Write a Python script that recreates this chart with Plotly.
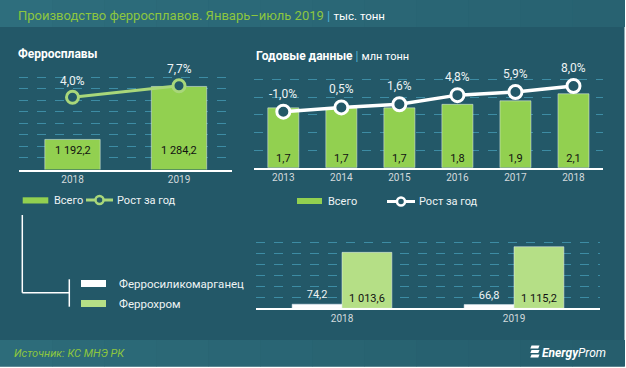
import plotly.graph_objects as go

W, H = 626, 368

# ---------------- data ----------------
ferro_years = ["2018", "2019"]
ferro_total = [1192.2, 1284.2]          # тыс. тонн
ferro_growth = [4.0, 7.7]               # %

annual_years = ["2013", "2014", "2015", "2016", "2017", "2018"]
annual_total = [1.7, 1.7, 1.7, 1.8, 1.9, 2.1]   # млн тонн
annual_growth = [-1.0, 0.5, 1.6, 4.8, 5.9, 8.0]  # %

split_years = ["2018", "2019"]
fesimn = [74.2, 66.8]        # Ферросиликомарганец
fecr = [1013.6, 1115.2]      # Феррохром

# ---------------- styling ----------------
BG = "#235868"
GREEN = "#92d050"
LGREEN = "#b5df86"
LINE_G = "#a9d77a"
GRID = "#3d8ca4"
TICK = "#d3dadd"
TXT = "#eef3f4"
FONT = "Roboto"


def fmt(v, dec=1):
    return f"{v:,.{dec}f}".replace(",", " ").replace(".", ",")


def X(p):
    return p / W


def Y(p):
    return 1 - p / H


fig = go.Figure()

# ---- left chart: Ферросплавы ----
fig.add_trace(go.Bar(x=ferro_years, y=ferro_total, marker_color=GREEN, width=0.52,
                     offset=-0.26, xaxis="x", yaxis="y", showlegend=False, hoverinfo="skip"))
fig.add_trace(go.Scatter(x=ferro_years, y=ferro_growth, mode="lines+markers",
                         line=dict(color=LINE_G, width=3),
                         marker=dict(size=12, color=BG, line=dict(color=LINE_G, width=3)),
                         xaxis="x", yaxis="y2", showlegend=False, hoverinfo="skip", cliponaxis=False))

# ---- right chart: Годовые данные ----
fig.add_trace(go.Bar(x=annual_years, y=annual_total, marker_color=GREEN, width=0.535,
                     offset=-0.2675, xaxis="x3", yaxis="y3", showlegend=False, hoverinfo="skip",
                     text=[fmt(v) for v in annual_total], textposition="inside",
                     insidetextanchor="start", textangle=0, constraintext="none",
                     textfont=dict(color="#111111", size=11, family=FONT)))
fig.add_trace(go.Scatter(x=annual_years, y=annual_growth, mode="lines+markers",
                         line=dict(color="#ffffff", width=3.5),
                         marker=dict(size=13, color=BG, line=dict(color="#ffffff", width=3)),
                         xaxis="x3", yaxis="y4", showlegend=False, hoverinfo="skip", cliponaxis=False))

# ---- bottom chart: split ----
fig.add_trace(go.Bar(x=split_years, y=fesimn, marker_color="#ffffff", xaxis="x5", yaxis="y5",
                     showlegend=False, hoverinfo="skip",
                     text=[fmt(v) for v in fesimn], textposition="outside", textangle=0,
                     constraintext="none", cliponaxis=False,
                     textfont=dict(color=TXT, size=11, family=FONT)))
fig.add_trace(go.Bar(x=split_years, y=fecr, marker_color=LGREEN, xaxis="x5", yaxis="y5",
                     showlegend=False, hoverinfo="skip",
                     text=[fmt(v) for v in fecr], textposition="inside", insidetextanchor="start",
                     textangle=0, constraintext="none",
                     textfont=dict(color="#111111", size=11, family=FONT)))

tickfont = dict(family=FONT, size=10, color=TICK)
common_x = dict(type="category", showgrid=False, showline=True, linecolor="#ffffff", linewidth=1.5,
                ticks="", tickfont=tickfont, fixedrange=True, zeroline=False)
common_y = dict(showgrid=True, gridcolor=GRID, griddash="dash", gridwidth=1, showticklabels=False,
                zeroline=False, ticks="", showline=False, fixedrange=True)

# left chart geometry
L_base, L_top = 169.5, 66.0
L_ppu = 0.576           # pixels per thousand tonnes
L_min = 1140
L_max = L_min + (L_base - L_top) / L_ppu
G_ppu = 3.135
G_min = 4.0 - (L_base - 97.3) / G_ppu
G_max = G_min + (L_base - L_top) / G_ppu

# right chart geometry
R_base, R_top = 167.7, 66.0
R_max = (R_base - R_top) / 35.2
R2_ppu = 2.856
R2_min = -1.0 - (R_base - 111.7) / R2_ppu
R2_max = R2_min + (R_base - R_top) / R2_ppu

# bottom chart geometry
B_base, B_top = 308.3, 236.0
B_max = (B_base - B_top) / 0.0552

fig.update_layout(
    width=W, height=H, margin=dict(l=0, r=0, t=0, b=0),
    paper_bgcolor="#ffffff", plot_bgcolor="rgba(0,0,0,0)",
    barmode="group", bargap=0.42, bargroupgap=0,
    font=dict(family=FONT, color=TXT),
    xaxis=dict(common_x, domain=[X(19.25), X(232.25)], anchor="y",
               categoryorder="array", categoryarray=ferro_years, range=[-0.5, len(ferro_years) - 0.5]),
    yaxis=dict(common_y, domain=[Y(L_base), Y(L_top)], range=[L_min, L_max], tick0=L_min, dtick=20,
               anchor="x"),
    yaxis2=dict(overlaying="y", anchor="x", range=[G_min, G_max], visible=False, fixedrange=True),
    xaxis3=dict(common_x, domain=[X(254.3), X(602.5)], anchor="y3",
                categoryorder="array", categoryarray=annual_years,
                range=[-0.5, len(annual_years) - 0.5]),
    yaxis3=dict(common_y, domain=[Y(R_base), Y(R_top)], range=[0, R_max], tick0=0, dtick=0.5,
                anchor="x3"),
    yaxis4=dict(overlaying="y3", anchor="x3", range=[R2_min, R2_max], visible=False, fixedrange=True),
    xaxis5=dict(common_x, domain=[X(256), X(600)], anchor="y5",
                categoryorder="array", categoryarray=split_years, range=[-0.5, len(split_years) - 0.5]),
    yaxis5=dict(common_y, domain=[Y(B_base), Y(B_top)], range=[0, B_max], tick0=0, dtick=200,
                anchor="x5"),
)

shapes = []
ann = []


def rect(x0, y0, x1, y1, color, layer="below"):
    shapes.append(dict(type="rect", xref="paper", yref="paper", x0=X(x0), x1=X(x1), y0=Y(y1), y1=Y(y0),
                       fillcolor=color, line=dict(width=0), layer=layer))


def seg(x0, y0, x1, y1, color="#ffffff", width=1.5, layer="above"):
    shapes.append(dict(type="line", xref="paper", yref="paper", x0=X(x0), x1=X(x1), y0=Y(y0), y1=Y(y1),
                       line=dict(color=color, width=width), layer=layer))


def circ(cx, cy, r, fill, color, width):
    shapes.append(dict(type="circle", xref="paper", yref="paper", x0=X(cx - r), x1=X(cx + r),
                       y0=Y(cy + r), y1=Y(cy - r), fillcolor=fill, line=dict(color=color, width=width),
                       layer="above"))


def text(x, y, s, size=11, color=TXT, xanchor="left", family=FONT):
    ann.append(dict(xref="paper", yref="paper", x=X(x), y=Y(y), text=s, showarrow=False,
                    xanchor=xanchor, yanchor="middle", font=dict(size=size, color=color, family=family)))


# background
rect(0, 0, 624.5, 366.5, BG)
n = 12
for i in range(n):
    t = i / (n - 1)
    c0, c1 = (46, 110, 125), (40, 98, 113)
    c = tuple(int(c0[k] + (c1[k] - c0[k]) * t) for k in range(3))
    rect(624.5 * i / n, 0, 624.5 * (i + 1) / n + 0.5, 27, "rgb(%d,%d,%d)" % c)
for i in range(n):
    t = i / (n - 1)
    c0, c1 = (45, 108, 122), (38, 94, 109)
    c = tuple(int(c0[k] + (c1[k] - c0[k]) * t) for k in range(3))
    rect(624.5 * i / n, 340, 624.5 * (i + 1) / n + 0.5, 366.5, "rgb(%d,%d,%d)" % c)

# titles
text(16, 15, "<span style='color:#8dc63f'>Производство ферросплавов. Январь–июль 2019</span>"
             " <span style='color:#4fb3d6'>|</span> <span style='font-size:11.5px'>тыс. тонн</span>",
     size=13, color="#ffffff")
text(16, 54, "<b>Ферросплавы</b>", size=12, color="#ffffff")
text(254, 56, "<b>Годовые данные</b> <span style='color:#4fb3d6'>|</span> "
              "<span style='font-size:11px'>млн тонн</span>", size=12, color="#ffffff")

# left chart bar labels and growth labels (x given as category index)
for i, v in enumerate(ferro_total):
    ann.append(dict(xref="x", yref="y", x=i, y=L_min, yshift=19.5, text=fmt(v), showarrow=False,
                    yanchor="middle", font=dict(size=11, color="#111111", family=FONT)))
for i, g in enumerate(ferro_growth):
    ann.append(dict(xref="x", yref="y2", x=i, y=g, yshift=16.5, text=fmt(g) + "%", showarrow=False,
                    yanchor="middle", font=dict(size=12, color=TXT, family=FONT)))
for i, g in enumerate(annual_growth):
    ann.append(dict(xref="x3", yref="y4", x=i, y=g, yshift=18, text=fmt(g) + "%", showarrow=False,
                    yanchor="middle", font=dict(size=12, color=TXT, family=FONT)))

# legends: left
rect(22.7, 197.3, 48.3, 203.5, GREEN, layer="above")
text(52, 200, "Всего", size=11)
seg(86, 200, 113, 200, LINE_G, 3)
circ(99.5, 200, 4, BG, LINE_G, 2.5)
text(115, 200, "Рост за год", size=11)
# legends: right
rect(297, 198, 322, 204, GREEN, layer="above")
text(326, 201.5, "Всего", size=11)
seg(387, 201.5, 415, 201.5, "#ffffff", 3)
circ(401, 201.5, 4, BG, "#ffffff", 2.5)
text(417, 201.5, "Рост за год", size=11)
# legends: bottom
rect(81, 280, 106, 287, "#ffffff", layer="above")
text(116.5, 283.5, "Ферросиликомарганец", size=11.5)
rect(81, 300, 106, 307, LGREEN, layer="above")
text(116.5, 304, "Феррохром", size=11.5)
# connectors
seg(22.3, 215, 22.3, 292.7)
seg(22.3, 292.7, 69.3, 292.7)
seg(69.3, 279.3, 69.3, 306.7)

# footer
text(12, 353, "<i>Источник: КС МНЭ РК</i>", size=11, color="#8dc63f")
text(540, 352.5, "<b><i>Energy</i></b><i>Prom</i>", size=12, color="#ffffff")
for yy in [345.5, 350.0, 354.5]:
    shapes.append(dict(type="path", xref="paper", yref="paper",
                       path="M %f %f L %f %f L %f %f L %f %f Z" % (
                           X(531.5), Y(yy), X(539.5), Y(yy), X(538.3), Y(yy + 3), X(530.3), Y(yy + 3)),
                       fillcolor="#ffffff", line=dict(width=0), layer="above"))

fig.update_layout(shapes=shapes, annotations=ann)
fig.write_html("out.html", config={"displayModeBar": False},
               post_script="document.body.style.margin='0';document.body.style.overflow='hidden';")
